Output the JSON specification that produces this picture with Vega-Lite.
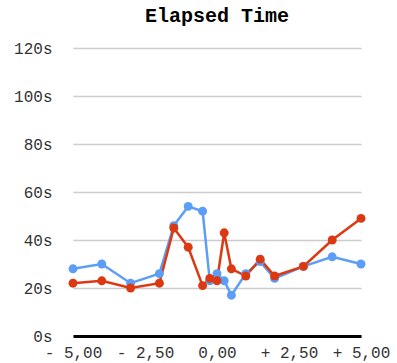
{
  "$schema": "https://vega.github.io/schema/vega-lite/v6.json",
  "width": 288,
  "height": 288,
  "autosize": {"type": "none"},
  "padding": {"left": 73, "top": 48, "right": 36, "bottom": 27},
  "title": {
    "text": "Elapsed Time",
    "font": "Liberation Mono",
    "fontSize": 20,
    "fontWeight": "bold",
    "color": "#000000",
    "anchor": "middle",
    "offset": 14
  },
  "config": {
    "view": {"stroke": null},
    "axis": {"labelFont": "Liberation Mono", "labelColor": "#333333", "labelFontSize": 16}
  },
  "data": {
    "values": [
      {"x": -5, "t": 28, "s": "A"},
      {"x": -4, "t": 30, "s": "A"},
      {"x": -3, "t": 22, "s": "A"},
      {"x": -2, "t": 26, "s": "A"},
      {"x": -1.5, "t": 46, "s": "A"},
      {"x": -1, "t": 54, "s": "A"},
      {"x": -0.5, "t": 52, "s": "A"},
      {"x": -0.25, "t": 23, "s": "A"},
      {"x": 0, "t": 26, "s": "A"},
      {"x": 0.25, "t": 23, "s": "A"},
      {"x": 0.5, "t": 17, "s": "A"},
      {"x": 1, "t": 26, "s": "A"},
      {"x": 1.5, "t": 31, "s": "A"},
      {"x": 2, "t": 24, "s": "A"},
      {"x": 3, "t": 29, "s": "A"},
      {"x": 4, "t": 33, "s": "A"},
      {"x": 5, "t": 30, "s": "A"},
      {"x": -5, "t": 22, "s": "B"},
      {"x": -4, "t": 23, "s": "B"},
      {"x": -3, "t": 20, "s": "B"},
      {"x": -2, "t": 22, "s": "B"},
      {"x": -1.5, "t": 45, "s": "B"},
      {"x": -1, "t": 37, "s": "B"},
      {"x": -0.5, "t": 21, "s": "B"},
      {"x": -0.25, "t": 24, "s": "B"},
      {"x": 0, "t": 23, "s": "B"},
      {"x": 0.25, "t": 43, "s": "B"},
      {"x": 0.5, "t": 28, "s": "B"},
      {"x": 1, "t": 25, "s": "B"},
      {"x": 1.5, "t": 32, "s": "B"},
      {"x": 2, "t": 25, "s": "B"},
      {"x": 3, "t": 29, "s": "B"},
      {"x": 4, "t": 40, "s": "B"},
      {"x": 5, "t": 49, "s": "B"}
    ]
  },
  "mark": {"type": "line", "strokeWidth": 2.5, "point": {"size": 80, "filled": true, "opacity": 1}},
  "encoding": {
    "x": {
      "field": "x",
      "type": "quantitative",
      "scale": {"domain": [-5, 5], "nice": false, "zero": false},
      "axis": {
        "title": null,
        "values": [-5, -2.5, 0, 2.5, 5],
        "grid": false,
        "ticks": false,
        "domain": true,
        "domainColor": "#000000",
        "domainWidth": 3,
        "labelPadding": 8,
        "labelOverlap": false,
        "labelBound": false,
        "labelFlush": false,
        "labelExpr": "datum.value == 0 ? '\u00a0\u00a00,00' : (datum.value > 0 ? '+ ' : '- ') + replace(format(abs(datum.value), '.2f'), '.', ',')"
      }
    },
    "y": {
      "field": "t",
      "type": "quantitative",
      "scale": {"domain": [0, 120], "nice": false},
      "axis": {
        "title": null,
        "values": [0, 20, 40, 60, 80, 100, 120],
        "domain": false,
        "ticks": false,
        "grid": true,
        "gridColor": "#cccccc",
        "gridWidth": 1.5,
        "labelPadding": 21,
        "labelExpr": "datum.value + 's'"
      }
    },
    "color": {
      "field": "s",
      "type": "nominal",
      "scale": {"domain": ["A", "B"], "range": ["#5c9ef7", "#dc3912"]},
      "legend": null
    }
  }
}
